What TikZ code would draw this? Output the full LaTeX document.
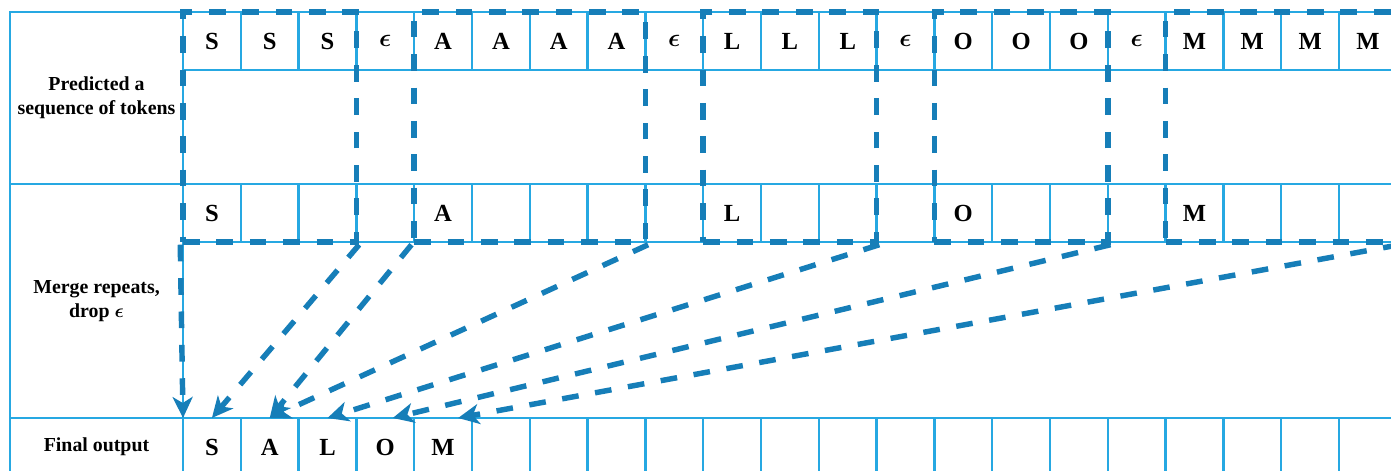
\documentclass[tikz,border=0pt]{standalone}
\usepackage{amsmath,amssymb}
\usepackage{fontspec}
\setmainfont{Liberation Serif}
\usetikzlibrary{arrows.meta, positioning, fit}
\definecolor{gridBlue}{RGB}{38,168,226}
\definecolor{pathBlue}{RGB}{22,126,184}
\newcommand{\epsTok}{$\boldsymbol{\epsilon}$}

\begin{document}
\begin{tikzpicture}[
  cell/.style={rectangle, draw=gridBlue, line width=1.4pt, outer sep=0pt,
               minimum width=\cw cm, minimum height=\rh cm, inner sep=0pt,
               font=\fontsize{14}{16}\selectfont\bfseries},
  head/.style={rectangle, draw=gridBlue, line width=1.4pt, outer sep=0pt,
               minimum width=3.46cm, align=center, inner sep=0pt,
               font=\fontsize{11.3}{13.6}\selectfont\bfseries},
  grp/.style={rectangle, draw=pathBlue, line width=3.1pt, inner sep=0pt,
              dash pattern=on 9.5pt off 9.5pt},
  link/.style={draw=pathBlue, line width=3.1pt, dash pattern=on 9.5pt off 9.5pt,
               rounded corners=4pt,
               -{Stealth[length=4.2mm, width=4mm, inset=1.2mm]}}
]
  \def\cw{1.156}
  \def\rh{1.16}
  \def\xo{3.66}
  \useasboundingbox (0,0) rectangle (27.82,-9.42);

  \node[head, minimum height=3.44cm] (hPred) at (1.93,-1.96)
    {Predicted a\\sequence of tokens};
  \node[head, minimum height=4.68cm, below=0pt of hPred] (hMerge)
    {Merge repeats,\\drop \epsTok};
  \node[head, minimum height=\rh cm, below=0pt of hMerge] (hFinal)
    {Final output};

  \foreach \t [count=\i from 0] in
      {S,S,S,\epsTok,A,A,A,A,\epsTok,L,L,L,\epsTok,O,O,O,\epsTok,M,M,M,M}
    \node[cell] (t\i) at ({\xo+(\i+0.5)*\cw},-0.82) {\t};
  \foreach \t [count=\i from 0] in {S,,,,A,,,,,L,,,,O,,,,M,,,}
    \node[cell] (m\i) at ({\xo+(\i+0.5)*\cw},-4.26) {\t};
  \foreach \t [count=\i from 0] in {S,A,L,O,M}
    \node[cell] (f\i) at ({\xo+(\i+0.5)*\cw},-8.94) {\t};
  \foreach \i in {5,...,20}
    \node[cell] (f\i) at ({\xo+(\i+0.5)*\cw},-8.94) {};

  \node[grp, fit=(t0)(m2)]   (gS) {};
  \node[grp, fit=(t4)(m7)]   (gA) {};
  \node[grp, fit=(t9)(m11)]  (gL) {};
  \node[grp, fit=(t13)(m15)] (gO) {};
  \node[grp, fit=(t17)(m20)] (gM) {};

  \draw[link] (gS.south west) -- (f0.north west);
  \foreach \a/\b in {gS.south east/f0.north, gA.south west/f1.north,
                     gA.south east/f1.north, gL.south east/f2.north}
    \draw[link] (\a) -- (\b);
  \draw[link] (gO.south east) -- ([xshift=1.5mm]f3.north);
  \draw[link] (gM.south east) -- ([xshift=3mm]f4.north);
\end{tikzpicture}
\end{document}
